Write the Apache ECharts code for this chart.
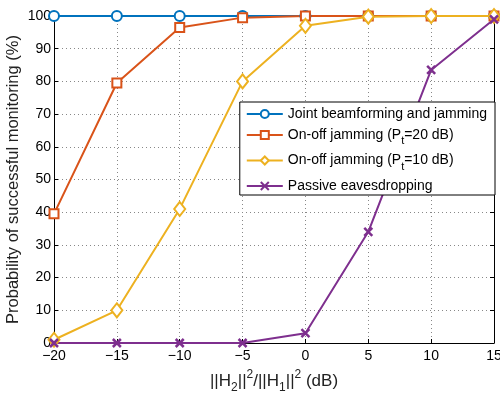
<!DOCTYPE html>
<html>
<head>
<meta charset="utf-8">
<script src="https://cdn.jsdelivr.net/npm/echarts@6/dist/echarts.min.js"></script>
<style>
  html, body { margin: 0; padding: 0; background: #fff; }
  #chart { width: 500px; height: 394px; }
</style>
</head>
<body>
<div id="chart"></div>
<script>
// x axis: channel ratio in dB
const xValues = [-20, -15, -10, -5, 0, 5, 10, 15];
const jointBeam = [100, 100, 100, 100, 100, 100, 100, 100];
const onOff20 = [39.5, 79.5, 96.5, 99.5, 100, 100, 100, 100];
const onOff10 = [1, 10, 41, 80, 97, 99.8, 100, 100];
const passive = [0, 0, 0, 0, 3, 34, 83.5, 99];
const yTicks = [0, 10, 20, 30, 40, 50, 60, 70, 80, 90, 100];

const seriesNames = ['Joint beamforming and jamming', 'On-off jamming (Pt=20 dB)', 'On-off jamming (Pt=10 dB)', 'Passive eavesdropping'];

function pairs(vals) {
    return xValues.map((x, i) => [x, vals[i]]);
}

const chart = echarts.init(document.getElementById('chart'));
const font = 'Liberation Sans, Arial, sans-serif';
const gridLine = { show: true, lineStyle: { color: '#888', type: [1, 3], width: 1 } };

function mkSeries(name, data, color, symbol, size, extra) {
    return Object.assign({
        name: name,
        type: 'line',
        data: pairs(data),
        symbol: symbol,
        symbolSize: size,
        showAllSymbol: true,
        lineStyle: { color: color, width: 2 },
        itemStyle: { color: '#fff', borderColor: color, borderWidth: 2 },
        emphasis: { disabled: true },
        animation: false
    }, extra || {});
}

chart.setOption({
    animation: false,
    grid: { left: 54, right: 6, top: 16, bottom: 51, containLabel: false, outerBoundsMode: 'none' },
    legend: {
        orient: 'vertical',
        right: 5,
        top: 102,
        itemWidth: 36,
        itemHeight: 10,
        itemGap: 7,
        padding: [5, 8, 2, 6],
        backgroundColor: '#fff',
        borderColor: '#000',
        borderWidth: 1,
        borderRadius: 0,
        data: seriesNames,
        formatter: function (name) {
            if (name.indexOf('Pt=') >= 0) {
                return name.replace('Pt=', 'P{sub|t}=');
            }
            return name;
        },
        textStyle: {
            fontFamily: font, fontSize: 14, color: '#000',
            rich: { sub: { fontFamily: font, fontSize: 11, color: '#000', verticalAlign: 'bottom', padding: [12, 0, 0, 0] } }
        }
    },
    xAxis: [{
        type: 'value',
        min: -20, max: 15, interval: 5,
        name: '||H{sub|2}||{sup|2}/||H{sub|1}||{sup|2} (dB)',
        nameLocation: 'middle',
        nameGap: 25,
        nameTextStyle: {
            fontFamily: font, fontSize: 17, color: '#222',
            rich: {
                sub: { fontFamily: font, fontSize: 12, color: '#222', padding: [14, 0, 0, 0] },
                sup: { fontFamily: font, fontSize: 12, color: '#222', padding: [0, 0, 12, 0] }
            }
        },
        axisLine: { onZero: false, lineStyle: { color: '#000', width: 1 } },
        axisTick: { inside: true, length: 4, lineStyle: { color: '#000' } },
        axisLabel: {
            fontFamily: font, fontSize: 14, color: '#000', margin: 6,
            formatter: v => String(v).replace('-', '\u2212')
        },
        splitLine: gridLine
    }, {
        type: 'value', position: 'top',
        min: -20, max: 15, interval: 5,
        axisLine: { show: true, onZero: false, lineStyle: { color: '#000' } },
        axisTick: { show: true, inside: true, length: 4, lineStyle: { color: '#000' } },
        axisLabel: { show: false },
        splitLine: { show: false }
    }],
    yAxis: [{
        type: 'value',
        min: yTicks[0], max: yTicks[yTicks.length - 1], interval: 10,
        name: 'Probability of successful monitoring (%)',
        nameLocation: 'middle',
        nameGap: 32,
        nameMoveOverlap: false,
        nameTextStyle: { fontFamily: font, fontSize: 16.5, color: '#222' },
        axisLine: { show: true, onZero: false, lineStyle: { color: '#000', width: 1 } },
        axisTick: { show: true, inside: true, length: 4, lineStyle: { color: '#000' } },
        axisLabel: { fontFamily: font, fontSize: 14, color: '#000', margin: 3 },
        splitLine: gridLine
    }, {
        type: 'value', position: 'right',
        min: 0, max: 100, interval: 10,
        axisLine: { show: true, onZero: false, lineStyle: { color: '#000' } },
        axisTick: { show: true, inside: true, length: 4, lineStyle: { color: '#000' } },
        axisLabel: { show: false },
        splitLine: { show: false }
    }],
    series: [
        mkSeries(seriesNames[0], jointBeam, '#0072BD', 'circle', 10),
        mkSeries(seriesNames[1], onOff20, '#D95319', 'rect', 9),
        mkSeries(seriesNames[2], onOff10, '#EDB120', 'diamond', [11, 14]),
        mkSeries(seriesNames[3], passive, '#7E2F8E', 'path://M0,0L10,10M10,0L0,10', 8,
            { itemStyle: { color: 'none', borderColor: '#7E2F8E', borderWidth: 2.5 } })
    ]
});
</script>
</body>
</html>
